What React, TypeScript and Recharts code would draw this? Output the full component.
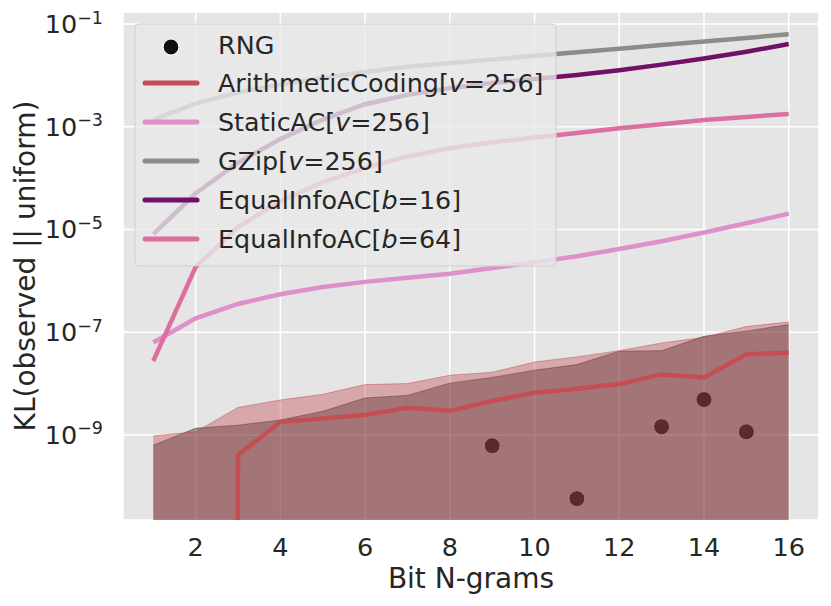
import React from "react";
import {
  ComposedChart,
  Line,
  Area,
  Scatter,
  XAxis,
  YAxis,
  CartesianGrid,
} from "recharts";

// x: bit n-gram length
const nGrams = [1, 2, 3, 4, 5, 6, 7, 8, 9, 10, 11, 12, 13, 14, 15, 16];

const rngKL = [null, null, null, null, null, null, null, null, 6.17e-10, null, 5.75e-11, null, 1.45e-9, 4.9e-9, 1.15e-9, null];
const rngBand = [6.31e-10, 1.35e-9, 1.55e-9, 1.95e-9, 2.88e-9, 5.25e-9, 5.89e-9, 1.02e-8, 1.32e-8, 1.82e-8, 2.34e-8, 4.27e-8, 4.37e-8, 8.32e-8, 1.05e-7, 1.41e-7];
// zero at n=1,2 -> effectively off the bottom of the log axis
const arithKL = [1e-300, 1e-300, 4.07e-10, 1.8e-9, 2.09e-9, 2.45e-9, 3.39e-9, 2.95e-9, 4.57e-9, 6.61e-9, 7.94e-9, 9.77e-9, 1.51e-8, 1.32e-8, 3.72e-8, 3.98e-8];
const arithBand = [9.55e-10, 1.15e-9, 3.43e-9, 4.79e-9, 6.17e-9, 9.55e-9, 1.0e-8, 1.45e-8, 1.66e-8, 2.63e-8, 3.31e-8, 4.37e-8, 6.17e-8, 7.94e-8, 1.29e-7, 1.58e-7];
const staticKL = [6.31e-8, 1.86e-7, 3.55e-7, 5.5e-7, 7.59e-7, 9.55e-7, 1.15e-6, 1.38e-6, 1.78e-6, 2.29e-6, 3.02e-6, 4.17e-6, 5.89e-6, 8.71e-6, 1.32e-5, 2.04e-5];
const gzipKL = [1.38e-3, 2.82e-3, 4.68e-3, 6.61e-3, 8.91e-3, 1.17e-2, 1.48e-2, 1.74e-2, 2.04e-2, 2.4e-2, 2.82e-2, 3.31e-2, 3.89e-2, 4.57e-2, 5.37e-2, 6.31e-2];
const eqInfo16KL = [8.13e-6, 5.01e-5, 2.0e-4, 5.75e-4, 1.38e-3, 2.75e-3, 4.17e-3, 5.62e-3, 7.08e-3, 8.51e-3, 1.02e-2, 1.26e-2, 1.62e-2, 2.14e-2, 2.88e-2, 4.07e-2];
const eqInfo64KL = [2.75e-8, 1.86e-6, 1.12e-5, 3.55e-5, 8.32e-5, 1.58e-4, 2.63e-4, 3.8e-4, 5.01e-4, 6.17e-4, 7.59e-4, 9.33e-4, 1.12e-3, 1.35e-3, 1.55e-3, 1.78e-3];

const xTicks = [2, 4, 6, 8, 10, 12, 14, 16];
const yTicks = [1e-9, 1e-7, 1e-5, 1e-3, 1e-1];
const yMin = 2.21e-11;
const yMax = 0.1714;

const FONT = "DejaVu Sans, sans-serif";
const TEXT = "#262626";

const RED = "#c44e52";
const STATIC = "#df8fc9";
const GZIP = "#8c8c8c";
const EQ16 = "#6f1166";
const EQ64 = "#dd6fa0";
const LW = 4.5;

const rows = nGrams.map((n, i) => ({
  n,
  rngBand: rngBand[i],
  arith: arithKL[i],
  arithBand: arithBand[i],
  staticAC: staticKL[i],
  gzip: gzipKL[i],
  eq16: eqInfo16KL[i],
  eq64: eqInfo64KL[i],
}));

const rngPoints = nGrams
  .map((n, i) => ({ n, rng: rngKL[i] }))
  .filter((d) => d.rng !== null);

const YTick = (props: any) => {
  const { x, y, payload } = props;
  const exp = Math.round(Math.log10(payload.value));
  return (
    <text x={x - 20} y={y + 9} textAnchor="end" fontFamily={FONT} fill={TEXT}>
      <tspan fontSize={25.5}>10</tspan>
      <tspan fontSize={17.5} dy={-9.5}>
        {"\u2212" + Math.abs(exp)}
      </tspan>
    </text>
  );
};

const XTick = (props: any) => {
  const { x, y, payload } = props;
  return (
    <text x={x} y={y + 36} textAnchor="middle" fontFamily={FONT} fontSize={25.5} fill={TEXT}>
      {payload.value}
    </text>
  );
};

const Dot = (props: any) => (
  <circle cx={props.cx} cy={props.cy} r={8} fill="#222" stroke="#fff" strokeWidth={1} />
);

const legendItems = [
  { name: "RNG", color: "#111", marker: true, y: 45 },
  { name: "ArithmeticCoding", arg: "v", val: "256", color: RED, y: 83 },
  { name: "StaticAC", arg: "v", val: "256", color: STATIC, y: 122 },
  { name: "GZip", arg: "v", val: "256", color: GZIP, y: 161 },
  { name: "EqualInfoAC", arg: "b", val: "16", color: EQ16, y: 200 },
  { name: "EqualInfoAC", arg: "b", val: "64", color: EQ64, y: 239 },
];

function LegendOverlay() {
  return (
    <svg
      width={831}
      height={606}
      style={{ position: "absolute", left: 0, top: 0, pointerEvents: "none" }}
    >
      <rect x={135} y={24} width={421} height={242} rx={4} fill="rgba(233,233,233,0.8)" stroke="#cfcfcf" strokeWidth={1} />
      {legendItems.map((it, i) => (
        <g key={i}>
          {it.marker ? (
            <circle cx={171} cy={it.y + 2} r={8} fill={it.color} stroke="#fff" strokeWidth={1.2} />
          ) : (
            <line x1={145} x2={197} y1={it.y} y2={it.y} stroke={it.color} strokeWidth={5} strokeLinecap="round" />
          )}
          <text x={218} y={it.y + 9} fontFamily={FONT} fontSize={25.4} fill={TEXT}>
            {it.name}
            {it.arg && (
              <>
                <tspan>[</tspan>
                <tspan fontStyle="italic">{it.arg}</tspan>
                <tspan>{"=" + it.val + "]"}</tspan>
              </>
            )}
          </text>
        </g>
      ))}
    </svg>
  );
}

export default function App() {
  return (
    <div style={{ position: "absolute", left: 0, top: 0, width: 831, height: 606, background: "#fff" }}>
      <ComposedChart
        width={831}
        height={606}
        data={rows}
        margin={{ top: 12, right: 12, bottom: 0, left: 0 }}
      >
        <CartesianGrid fill="#e5e5e5" stroke="#ffffff" strokeWidth={1.6} />
        <XAxis
          dataKey="n"
          type="number"
          domain={[0.285, 16.715]}
          ticks={xTicks}
          allowDataOverflow
          axisLine={false}
          tickLine={false}
          tickSize={0}
          tickMargin={0}
          height={86}
          tick={<XTick />}
          interval={0}
        />
        <YAxis
          type="number"
          scale="log"
          domain={[yMin, yMax]}
          ticks={yTicks}
          allowDataOverflow
          axisLine={false}
          tickLine={false}
          tickSize={0}
          tickMargin={0}
          width={123}
          tick={<YTick />}
          interval={0}
        />
        <Scatter data={rngPoints} dataKey="rng" shape={<Dot />} isAnimationActive={false} zIndex={50} />
        <Area
          type="linear"
          dataKey="rngBand"
          baseValue={yMin}
          fill="#000"
          fillOpacity={0.37}
          stroke="#000"
          strokeOpacity={0.4}
          strokeWidth={1}
          dot={false}
          activeDot={false}
          isAnimationActive={false}
        />
        <Area
          type="linear"
          dataKey="arithBand"
          baseValue={yMin}
          fill={RED}
          fillOpacity={0.4}
          stroke={RED}
          strokeOpacity={0.5}
          strokeWidth={1}
          dot={false}
          activeDot={false}
          isAnimationActive={false}
        />
        <Line type="linear" dataKey="arith" stroke={RED} strokeWidth={LW} dot={false} isAnimationActive={false} />
        <Line type="linear" dataKey="staticAC" stroke={STATIC} strokeWidth={LW} dot={false} isAnimationActive={false} />
        <Line type="linear" dataKey="gzip" stroke={GZIP} strokeWidth={LW} dot={false} isAnimationActive={false} />
        <Line type="linear" dataKey="eq16" stroke={EQ16} strokeWidth={LW} dot={false} isAnimationActive={false} />
        <Line type="linear" dataKey="eq64" stroke={EQ64} strokeWidth={LW} dot={false} isAnimationActive={false} />
      </ComposedChart>
      <svg width={831} height={606} style={{ position: "absolute", left: 0, top: 0, pointerEvents: "none" }}>
        <text x={471} y={588} textAnchor="middle" fontFamily={FONT} fontSize={28} fill={TEXT}>
          Bit N-grams
        </text>
        <text
          transform="translate(35,266) rotate(-90)"
          textAnchor="middle"
          fontFamily={FONT}
          fontSize={28}
          fill={TEXT}
        >
          KL(observed || uniform)
        </text>
      </svg>
      <LegendOverlay />
    </div>
  );
}
